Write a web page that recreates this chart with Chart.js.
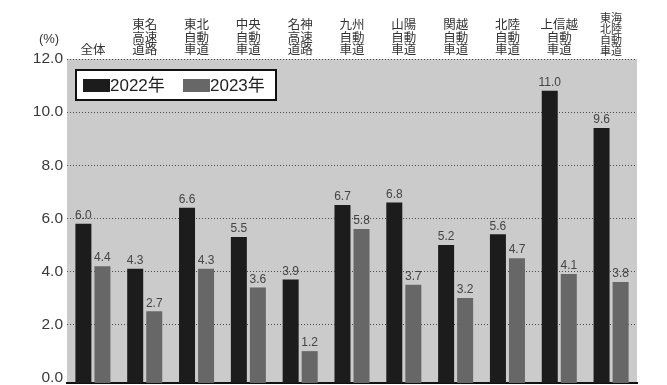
<!DOCTYPE html>
<html lang="ja">
<head>
<meta charset="utf-8">
<script src="https://cdn.jsdelivr.net/npm/chart.js@4.4.1/dist/chart.umd.min.js"></script>
<style>
  html, body { margin: 0; padding: 0; background: #fff; }
</style>
</head>
<body>
<canvas id="rate-chart" width="667" height="385"></canvas>
<script>
// categories (multi-line labels, shown above the plot)
const categories = [
  ["全体"],
  ["東名", "高速", "道路"],
  ["東北", "自動", "車道"],
  ["中央", "自動", "車道"],
  ["名神", "高速", "道路"],
  ["九州", "自動", "車道"],
  ["山陽", "自動", "車道"],
  ["関越", "自動", "車道"],
  ["北陸", "自動", "車道"],
  ["上信越", "自動", "車道"],
  ["東海", "北陸", "自動", "車道"],
];

const seriesNames = ["2022年", "2023年"];
const values2022 = [6.0, 4.3, 6.6, 5.5, 3.9, 6.7, 6.8, 5.2, 5.6, 11.0, 9.6];
const values2023 = [4.4, 2.7, 4.3, 3.6, 1.2, 5.8, 3.7, 3.2, 4.7, 4.1, 3.8];

const yTicks = [0, 2, 4, 6, 8, 10, 12];
// in the source the gridlines sit a little above the bar baseline
const TICK_SHIFT = 0.2;

const BAR_COLORS = ["#1c1c1c", "#676767"];
const TEXT_COLOR = "#333";
const LATIN = "'Liberation Sans', 'Noto Sans CJK JP', sans-serif";
const JP = "'Noto Sans CJK JP', sans-serif";

// grey plot background
const plotBackground = {
  id: "plotBackground",
  beforeDraw(chart) {
    const { ctx, chartArea: a } = chart;
    ctx.save();
    ctx.fillStyle = "#cbcbcb";
    ctx.fillRect(a.left, a.top, a.right - a.left, a.bottom - a.top);
    ctx.restore();
  },
};

// value labels above each bar
const barValues = {
  id: "barValues",
  afterDatasetsDraw(chart) {
    const ctx = chart.ctx;
    ctx.save();
    ctx.font = "12px " + LATIN;
    ctx.fillStyle = "#444";
    ctx.textAlign = "center";
    ctx.textBaseline = "bottom";
    chart.data.datasets.forEach((ds, i) => {
      chart.getDatasetMeta(i).data.forEach((bar, j) => {
        ctx.fillText(ds.data[j].toFixed(1), bar.x, bar.y - 2);
      });
    });
    ctx.restore();
  },
};

// boxed legend inside the plot + the (%) unit
const boxLegend = {
  id: "boxLegend",
  afterDraw(chart) {
    const ctx = chart.ctx;
    const a = chart.chartArea;
    ctx.save();

    ctx.font = "13px " + LATIN;
    ctx.fillStyle = TEXT_COLOR;
    ctx.textAlign = "center";
    ctx.textBaseline = "alphabetic";
    ctx.fillText("(%)", 49, 43);

    const x0 = a.left + 9, y0 = a.top + 11;
    ctx.fillStyle = "#fff";
    ctx.fillRect(x0, y0, 200, 30);
    ctx.strokeStyle = "#111";
    ctx.lineWidth = 2;
    ctx.strokeRect(x0, y0, 200, 30);

    ctx.font = "17px " + LATIN;
    ctx.textAlign = "left";
    ctx.textBaseline = "middle";
    let x = x0 + 7;
    chart.data.datasets.forEach((ds) => {
      ctx.fillStyle = ds.backgroundColor;
      ctx.fillRect(x, y0 + 9, 27, 13);
      ctx.fillStyle = "#222";
      ctx.fillText(ds.label, x + 27, y0 + 16);
      x += 100;
    });
    ctx.restore();
  },
};

new Chart(document.getElementById("rate-chart"), {
  type: "bar",
  data: {
    labels: categories,
    datasets: [
      {
        label: seriesNames[0],
        data: values2022,
        backgroundColor: BAR_COLORS[0],
        barPercentage: 0.84,
        categoryPercentage: 0.735,
      },
      {
        label: seriesNames[1],
        data: values2023,
        backgroundColor: BAR_COLORS[1],
        barPercentage: 0.84,
        categoryPercentage: 0.735,
      },
    ],
  },
  options: {
    responsive: false,
    animation: false,
    layout: { padding: { left: 0, right: 30, top: 0, bottom: 2 } },
    plugins: {
      legend: { display: false },
      tooltip: { enabled: false },
    },
    scales: {
      x: {
        position: "bottom",
        offset: true,
        ticks: { display: false },
        grid: { display: true, color: "transparent", drawTicks: false },
        border: { display: true, color: "#111", width: 2 },
        afterFit(scale) { scale.height = 0; },
      },
      x2: {
        type: "category",
        position: "top",
        labels: categories,
        offset: true,
        grid: { display: false, drawTicks: false },
        border: { display: false },
        ticks: {
          autoSkip: false,
          maxRotation: 0,
          padding: 3,
          color: TEXT_COLOR,
          font: (c) => c.index === categories.length - 1
            ? { family: JP, size: 11, lineHeight: 1.0 }
            : { family: JP, size: 12.5, lineHeight: 1.02 },
        },
        afterFit(scale) { scale.height = 59; },
      },
      y: {
        min: 0,
        max: 12 + TICK_SHIFT,
        afterBuildTicks(scale) {
          scale.ticks = yTicks.map((v) => ({ value: v + TICK_SHIFT }));
        },
        ticks: {
          padding: 4,
          color: "#3a3a3a",
          font: { family: LATIN, size: 15.5 },
          callback: (value) => (value - TICK_SHIFT).toFixed(1),
        },
        grid: {
          drawTicks: false,
          lineWidth: 1,
          color: (c) => (c.index === 0 ? "transparent" : "#4a4a4a"),
        },
        border: { display: false, dash: [1, 2] },
        afterFit(scale) {
          scale.width = 67;
          scale.paddingTop = 0;
          scale.paddingBottom = 0;
        },
      },
    },
  },
  plugins: [plotBackground, barValues, boxLegend],
});
</script>
</body>
</html>
